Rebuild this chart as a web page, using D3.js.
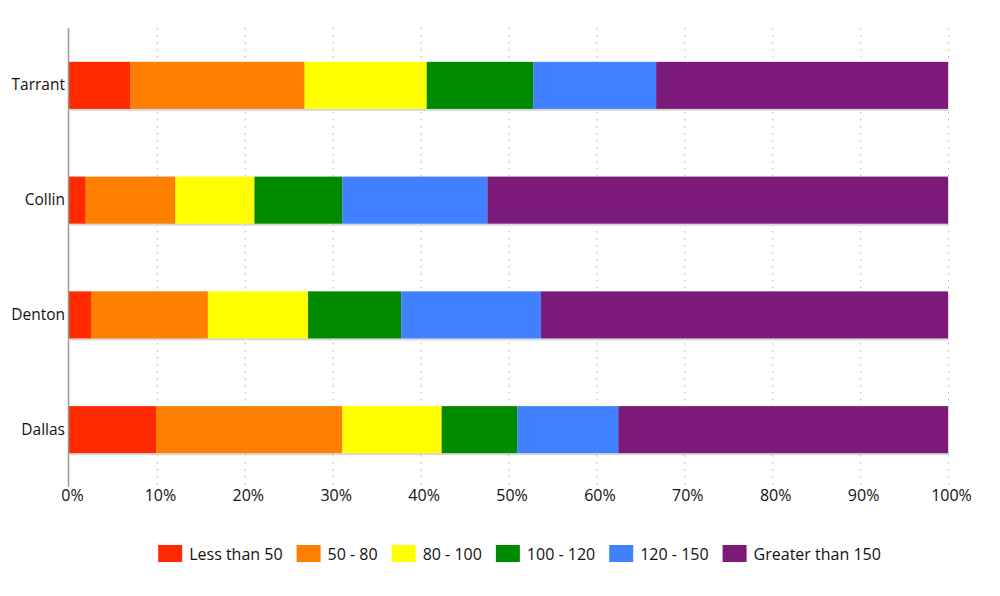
<!DOCTYPE html>
<html><head><meta charset="utf-8">
<script src="https://cdn.jsdelivr.net/npm/d3@7"></script>
<style>body{margin:0;background:#fff}svg{display:block}text{font-family:"Open Sans",Lato,sans-serif;fill:#111}</style>
</head><body><svg id="c" width="1000" height="596"></svg>
<script>
const categories = ["Tarrant","Collin","Denton","Dallas"];
const seriesNames = ["Less than 50","50 - 80","80 - 100","100 - 120","120 - 150","Greater than 150"];
const lessThan50 = [7.0, 1.9, 2.5, 9.9];
const s50to80 = [19.8, 10.2, 13.3, 21.2];
const s80to100 = [13.9, 9.0, 11.4, 11.3];
const s100to120 = [12.1, 10.0, 10.6, 8.6];
const s120to150 = [14.0, 16.5, 15.9, 11.5];
const greater150 = [33.2, 52.4, 46.3, 37.5];
const colors = ["#ff2a00","#ff7f00","#ffff00","#008a00","#4181ff","#7b1a78"];
const xTicks = [0,10,20,30,40,50,60,70,80,90,100];

const seriesVals = [lessThan50,s50to80,s80to100,s100to120,s120to150,greater150];
const rows = categories.map((c,i)=>{const o={cat:c};seriesNames.forEach((s,j)=>o[s]=seriesVals[j][i]);return o;});
const stack = d3.stack().keys(seriesNames)(rows);

const svg = d3.select("#c");
const L=69,R=948,T=28,B=487;
const x = d3.scaleLinear().domain([0,100]).range([L,R]);
const y = d3.scaleBand().domain(categories).range([T,B]).paddingInner(0.59).paddingOuter(0.295);

// grid
svg.append("g").selectAll("line").data(xTicks.slice(1)).join("line")
  .attr("x1",d=>x(d)+0.5).attr("x2",d=>x(d)+0.5).attr("y1",T).attr("y2",B)
  .attr("stroke","#b0b0b0").attr("stroke-width",1).attr("stroke-dasharray","1.5,5.5");

// shadows
svg.append("g").selectAll("rect").data(categories).join("rect")
  .attr("x",x(0)+1).attr("y",d=>y(d)+2).attr("width",x(100)-x(0)).attr("height",y.bandwidth())
  .attr("fill","#d8d8d8");

// bars
svg.append("g").selectAll("g").data(stack).join("g").attr("fill",(d,i)=>colors[i])
  .selectAll("rect").data(d=>d).join("rect")
  .attr("x",d=>x(d[0])).attr("width",d=>x(d[1])-x(d[0]))
  .attr("y",d=>y(d.data.cat)).attr("height",y.bandwidth());

// y axis
svg.append("line").attr("x1",L-0.5).attr("x2",L-0.5).attr("y1",T).attr("y2",B).attr("stroke","#999").attr("stroke-width",1.5);
const yAxis = d3.axisLeft(y).tickSize(0).tickPadding(4);
const ya = svg.append("g").attr("transform",`translate(${L},0)`).call(yAxis);
ya.select(".domain").remove();
ya.selectAll("text").style("font-size","15.5px").style("font-family",'"Open Sans",Lato,sans-serif').attr("fill","#111");

// x axis labels
const xAxis = d3.axisBottom(x).tickValues(xTicks).tickFormat(d=>d+"%").tickSize(0).tickPadding(0);
const xa = svg.append("g").attr("transform",`translate(3,${B+3})`).call(xAxis);
xa.select(".domain").remove();
xa.selectAll("text").style("font-size","16px").style("font-family",'"Open Sans",Lato,sans-serif').attr("fill","#111");

// legend
const lg = svg.append("g");
const items = lg.selectAll("g").data(seriesNames).join("g");
items.append("rect").attr("width",24).attr("height",17).attr("y",545).attr("fill",(d,i)=>colors[i]);
items.append("text").attr("x",31).attr("y",554).attr("dy","0.35em").style("font-size","16px").text(d=>d);
let widths=[]; items.selectAll("text").each(function(){widths.push(this.getComputedTextLength());});
const gap=14; let total=0; widths.forEach((w,i)=>{total+=24+7+w+(i<widths.length-1?gap:0);});
let cx=519.5-total/2;
items.attr("transform",(d,i)=>{const t=`translate(${cx},0)`;cx+=24+7+widths[i]+gap;return t;});
</script></body></html>
